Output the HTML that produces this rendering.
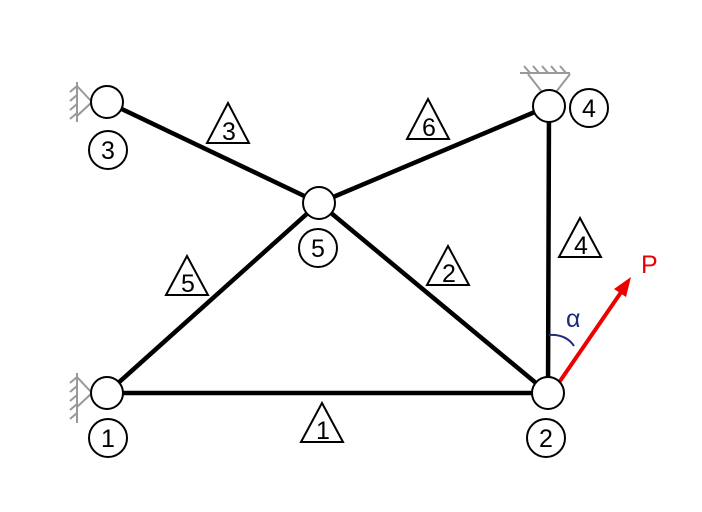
<!DOCTYPE html>
<html><head><style>body{margin:0;background:#fff}svg{display:block}text{font-family:"Liberation Sans",sans-serif}</style></head>
<body>
<svg width="702" height="512" viewBox="0 0 702 512" xmlns="http://www.w3.org/2000/svg">
<g stroke="#999" stroke-width="2" fill="none">
 <path d="M92,102 L77,86 M92,102 L77,116 M77,82 V122"/>
 <path d="M77,86 l-7,6 M77,95 l-7,6 M77,104 l-7,6 M77,113 l-7,6"/>
 <path d="M92,393 L77,377 M92,393 L77,407 M77,373 V423"/>
 <path d="M77,377 l-7,6 M77,386 l-7,6 M77,395 l-7,6 M77,404 l-7,6 M77,413 l-7,6"/>
 <path d="M542,92 L528,74 M556,92 L570,74 M520,73 H570"/>
 <path d="M530,73 l-6,-7 M539,73 l-6,-7 M548,73 l-6,-7 M557,73 l-6,-7 M566,73 l-6,-7"/>
</g>
<g stroke="#000" stroke-width="4.5" stroke-linecap="round">
 <line x1="107" y1="393" x2="548" y2="393"/>
 <line x1="107" y1="102" x2="319" y2="203"/>
 <line x1="319" y1="203" x2="549" y2="106"/>
 <line x1="549" y1="106" x2="548" y2="393"/>
 <line x1="107" y1="393" x2="319" y2="203"/>
 <line x1="319" y1="203" x2="548" y2="393"/>
</g>
<path d="M549,335 Q566,334 574,346" stroke="#1f2a7a" stroke-width="2" fill="none"/>
<text x="566" y="327" font-size="25" fill="#1f2a7a">α</text>
<line x1="558" y1="384" x2="624" y2="288" stroke="#e00" stroke-width="4"/>
<polygon points="631,277 626,297 614,289" fill="#e00"/>
<text x="641" y="273" font-size="25" fill="#e00">P</text>
<g stroke="#000" stroke-width="2" fill="#fff">
 <circle cx="107" cy="102" r="16"/><circle cx="549" cy="106" r="16"/>
 <circle cx="319" cy="203" r="16"/><circle cx="107" cy="393" r="16"/>
 <circle cx="548" cy="393" r="16"/>
 <circle cx="108" cy="150" r="19"/><circle cx="589" cy="108" r="19"/>
 <circle cx="318" cy="248" r="19"/><circle cx="108" cy="438" r="19"/>
 <circle cx="546" cy="438" r="19"/>
 <polygon points="228,103 207,143 249,143"/>
 <polygon points="428,99 407,139 449,139"/>
 <polygon points="580,218 559,257 601,257"/>
 <polygon points="187,256 166,295 208,295"/>
 <polygon points="448,246 427,285 469,285"/>
 <polygon points="322,403 301,442 343,442"/>
</g>
<g font-size="25" text-anchor="middle" fill="#000">
 <text x="108" y="159">3</text><text x="589" y="117">4</text>
 <text x="318" y="257">5</text><text x="108" y="447">1</text>
 <text x="546" y="447">2</text>
 <text x="229" y="140">3</text><text x="429" y="136">6</text>
 <text x="581" y="254">4</text><text x="188" y="292">5</text>
 <text x="449" y="282">2</text><text x="323" y="439">1</text>
</g>
</svg>
</body></html>
